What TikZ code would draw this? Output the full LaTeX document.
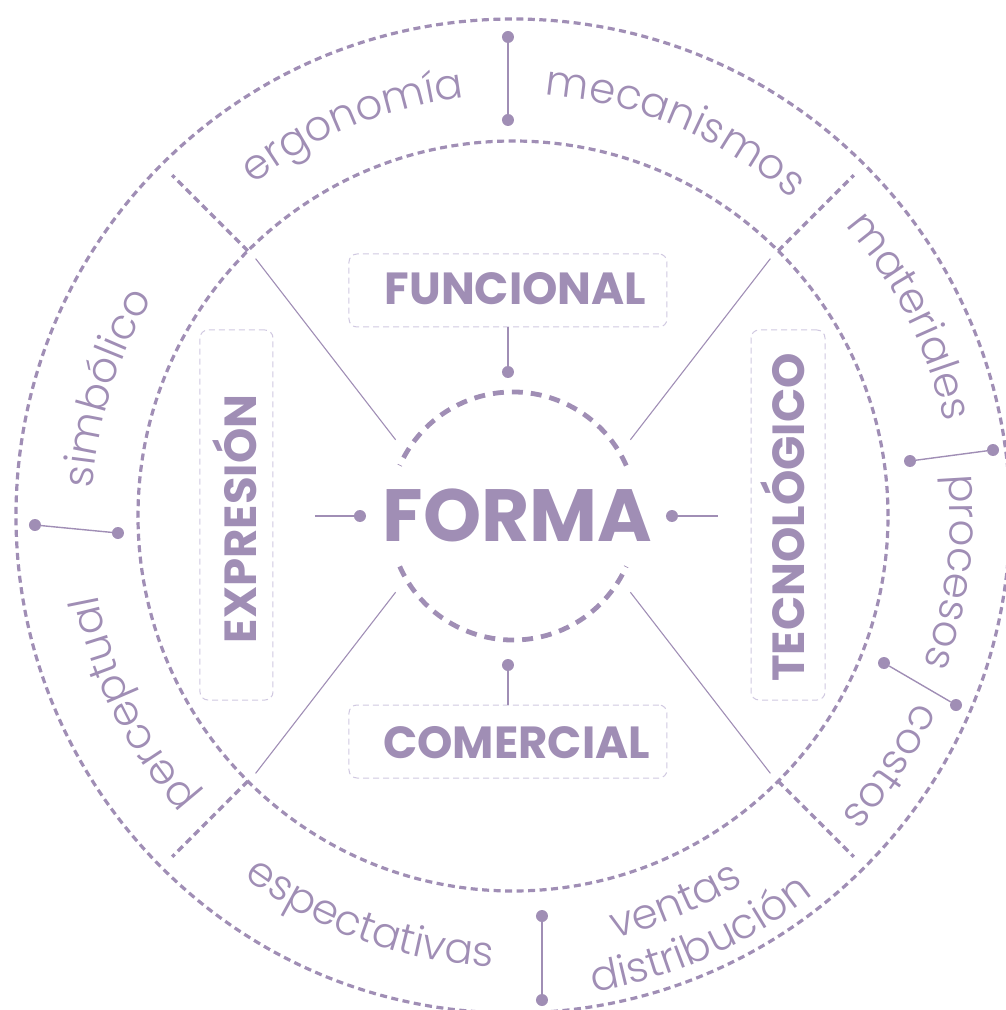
\documentclass[tikz,border=0pt]{standalone}
\usepackage{fontspec}
\setmainfont{Poppins}
\newfontfamily\lightf{Poppins Light}
\usetikzlibrary{decorations.text}
\definecolor{purp}{RGB}{160,142,181}
\definecolor{boxc}{RGB}{208,200,224}
\newcommand{\rimcw}[3]{%
  \pgfmathsetmacro{\sa}{#1+32}\pgfmathsetmacro{\ea}{#1-32}%
  \path[decorate, decoration={text along path, text align=center, text color=purp,
    text={|\lightf\fontsize{42}{50}\selectfont|#3}}]
    (\sa:#2) arc[start angle=\sa, end angle=\ea, radius=#2];}
\newcommand{\rimccw}[3]{%
  \pgfmathsetmacro{\sa}{#1-32}\pgfmathsetmacro{\ea}{#1+32}%
  \path[decorate, decoration={text along path, text align=center, text color=purp,
    text={|\lightf\fontsize{42}{50}\selectfont|#3}}]
    (\sa:#2) arc[start angle=\sa, end angle=\ea, radius=#2];}
\begin{document}
\begin{tikzpicture}[x=1pt,y=1pt,
  ring/.style={draw=purp, line width=3.2pt, dash pattern=on 7pt off 4.5pt},
  core/.style={draw=purp, line width=4.8pt, dash pattern=on 11pt off 8pt},
  thinline/.style={draw=purp, line width=1.1pt},
  conn/.style={draw=purp, line width=1.4pt},
  dotn/.style={circle, fill=purp, inner sep=0pt, minimum size=12pt},
  catbox/.style={draw=boxc, line width=1pt, dash pattern=on 6pt off 4pt, rounded corners=8pt, inner sep=0pt},
  cat/.style={text=purp, font=\bfseries\fontsize{45}{45}\selectfont, inner sep=0pt, text height=31.5pt, text depth=0pt},
]
\useasboundingbox (-513,-494) rectangle (492,516);
\coordinate (O) at (0,0);
% rings
\draw[ring] (O) circle[radius=497];
\draw[ring] (O) circle[radius=375];
% separators and diagonals
\foreach \a/\b [count=\i] in {135/147, 45/33, 225/213, 315/327} {
  \coordinate (so\i) at (\a:364);
  \coordinate (si\i) at (\b:140);
  \draw[thinline] (si\i) -- (so\i);
  \coordinate (do\i) at (\a:482);
  \coordinate (di\i) at (\a:375);
  \draw[ring] (di\i) -- (do\i);
}
% core circle
\draw[core] (24:124) arc[start angle=24, end angle=156, radius=124];
\draw[core] (204:124) arc[start angle=204, end angle=336, radius=124];
% FORMA
\node[text=purp, font=\bfseries\fontsize{74}{74}\selectfont, inner sep=0pt, text height=52pt, text depth=0pt] (forma) at (4.5,1) {FORMA};
\node[dotn] (fl) at (-153,0) {};
\coordinate (fle) at (-198,0);
\draw[conn] (fle) -- (fl);
\node[dotn] (fr) at (159,0) {};
\coordinate (fre) at (205,0);
\draw[conn] (fr) -- (fre);
% category boxes
\node[catbox, minimum width=318pt, minimum height=73pt] (bfun) at (-5,225.5) {};
\node[cat] (tfun) at (2.5,227) {FUNCIONAL};
\node[dotn] (dfun) at (-5,144) {};
\draw[conn] (bfun.south) -- (dfun);
\node[catbox, minimum width=318pt, minimum height=73pt] (bcom) at (-5,-225.5) {};
\node[cat] (tcom) at (3.5,-226.5) {COMERCIAL};
\node[dotn] (dcom) at (-5,-149) {};
\draw[conn] (dcom) -- (bcom.north);
\node[catbox, minimum width=73pt, minimum height=370pt] (bexp) at (-276.5,1) {};
\node[cat, rotate=90] (texp) at (-272,-3) {EXPRESIÓN};
\node[catbox, minimum width=74pt, minimum height=370pt] (btec) at (275,1) {};
\node[cat, rotate=90] (ttec) at (276,-1.5) {TECNOLÓGICO};
% ring connectors
\node[dotn] (c1a) at (-5,396) {};   \node[dotn] (c1b) at (-5,479) {};   \draw[conn] (c1a) -- (c1b);
\node[dotn] (c2a) at (397,55) {};   \node[dotn] (c2b) at (480,66) {};   \draw[conn] (c2a) -- (c2b);
\node[dotn] (c3a) at (371,-147) {}; \node[dotn] (c3b) at (443,-189) {}; \draw[conn] (c3a) -- (c3b);
\node[dotn] (c4a) at (-395,-17) {}; \node[dotn] (c4b) at (-478,-9) {};  \draw[conn] (c4a) -- (c4b);
\node[dotn] (c5a) at (29,-400) {};  \node[dotn] (c5b) at (29,-484) {};  \draw[conn] (c5a) -- (c5b);
% curved labels
\rimcw{112.3}{421}{ergonomía}
\rimcw{67.2}{422}{mecanismos}
\rimcw{26.7}{441}{materiales}
\rimcw{-7.3}{437}{procesos}
\rimcw{-33.5}{444}{costos}
\rimcw{162.5}{421}{simbólico}
\rimcw{206.3}{423}{perceptual}
\rimccw{250.4}{451}{espectativas}
\rimccw{292.8}{434}{ventas}
\rimccw{294}{483}{distribución}
\end{tikzpicture}
\end{document}
